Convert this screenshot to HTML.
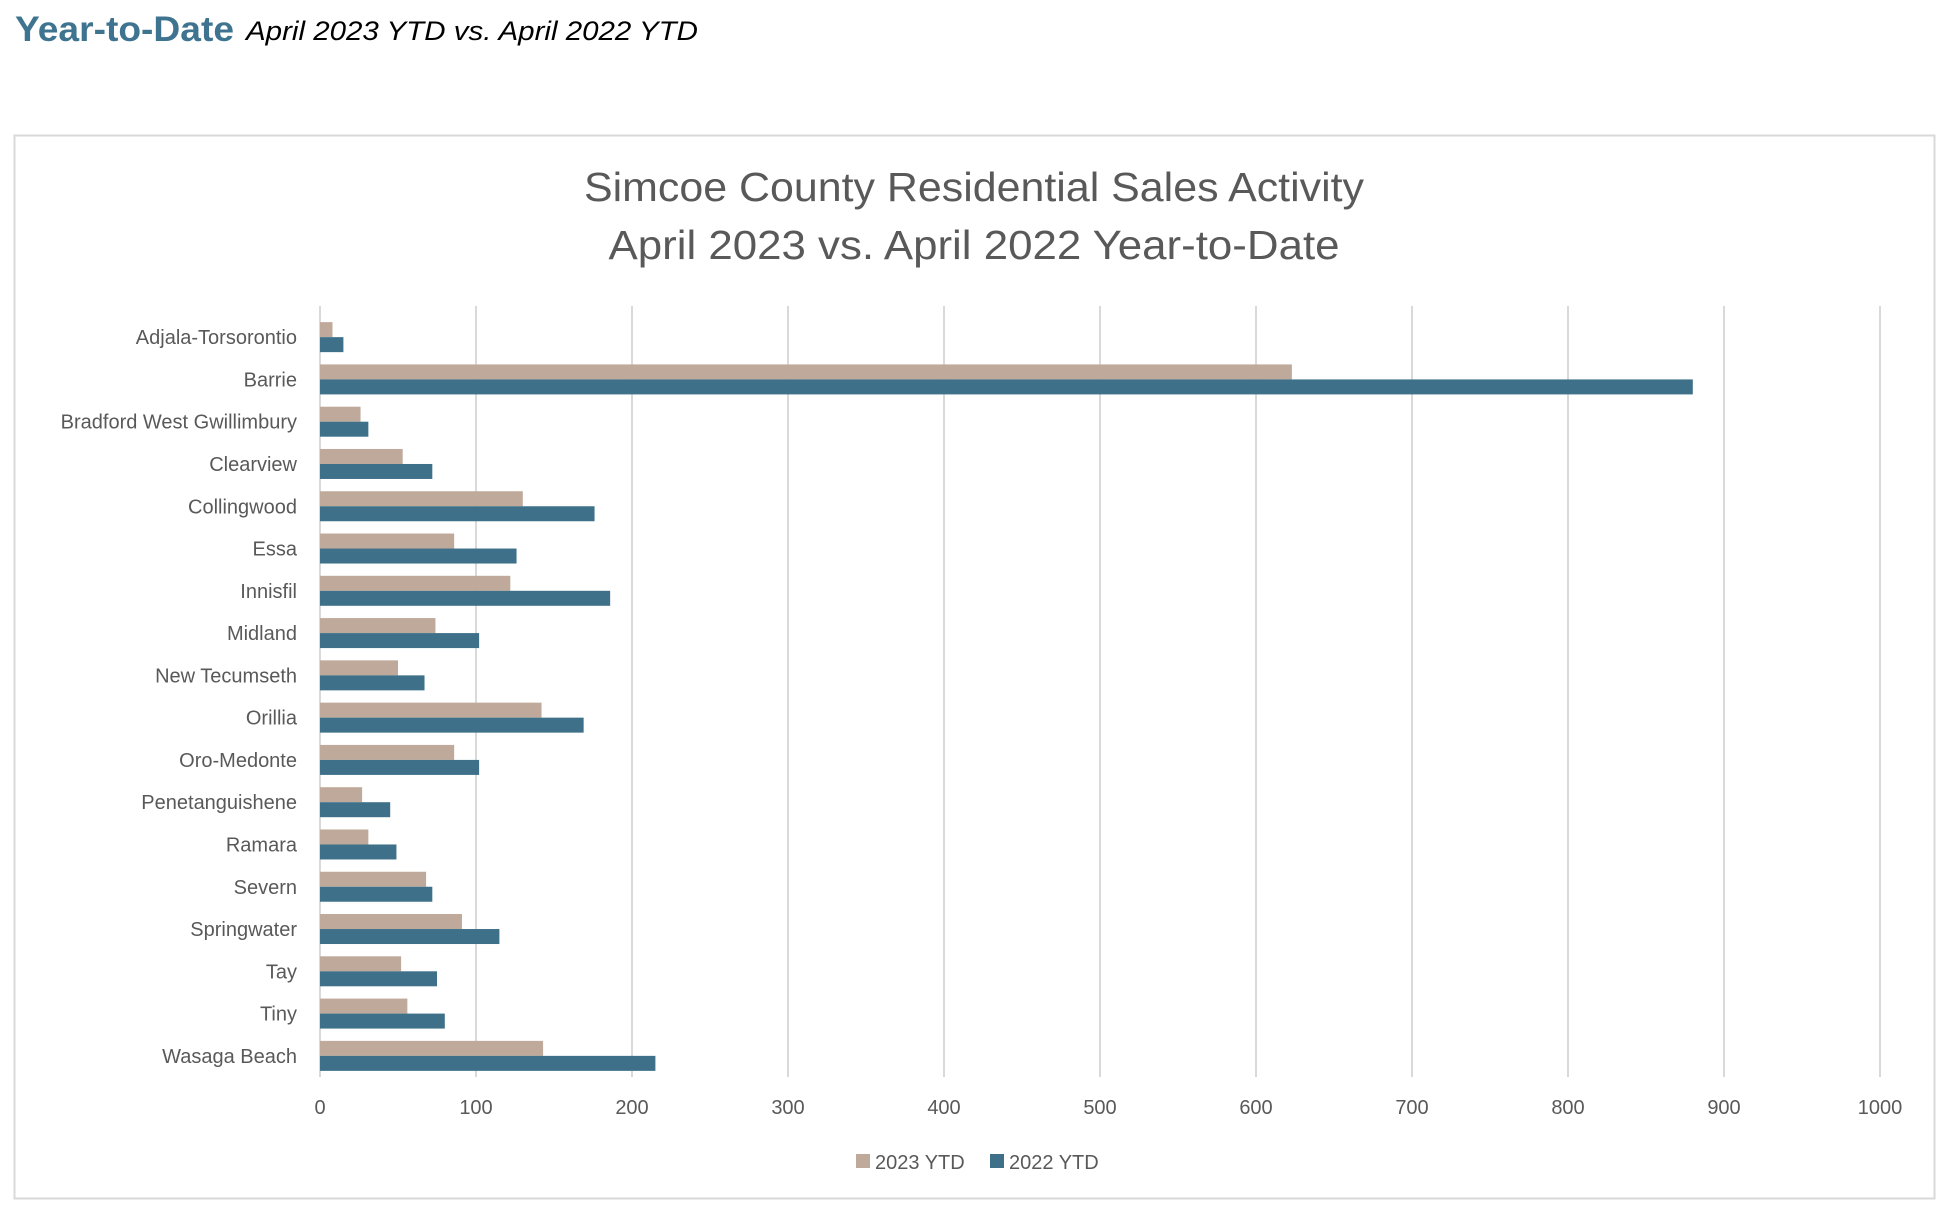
<!DOCTYPE html>
<html><head><meta charset="utf-8"><style>
html,body{margin:0;padding:0;background:#fff;}
svg{display:block;font-family:"Liberation Sans",sans-serif;}
</style></head><body>
<svg id="chart" width="1946" height="1206" viewBox="0 0 1946 1206" xmlns="http://www.w3.org/2000/svg">
<text x="15" y="41" font-size="35" font-weight="bold" fill="#3f7490" textLength="219" lengthAdjust="spacingAndGlyphs">Year-to-Date</text>
<text x="246" y="40" font-size="27" font-style="italic" fill="#000" textLength="452" lengthAdjust="spacingAndGlyphs">April 2023 YTD vs. April 2022 YTD</text>
<rect x="14.5" y="135.5" width="1920" height="1063" fill="#fff" stroke="#d9d9d9" stroke-width="2"/>
<text x="974" y="201" font-size="41" fill="#595959" text-anchor="middle" textLength="780" lengthAdjust="spacingAndGlyphs">Simcoe County Residential Sales Activity</text>
<text x="974" y="259" font-size="41" fill="#595959" text-anchor="middle" textLength="731" lengthAdjust="spacingAndGlyphs">April 2023 vs. April 2022 Year-to-Date</text>
<g id="grid"></g><g id="bars"></g><g id="labels"></g><g id="ticks"></g>
<g>
<rect x="856" y="1154" width="14" height="14" fill="#bfa99a"/>
<text x="875" y="1169" font-size="20" fill="#595959">2023 YTD</text>
<rect x="990" y="1154" width="14" height="14" fill="#3e7189"/>
<text x="1009" y="1169" font-size="20" fill="#595959">2022 YTD</text>
</g>
</svg>
<script>
const categories = ["Adjala-Torsorontio","Barrie","Bradford West Gwillimbury","Clearview","Collingwood","Essa","Innisfil","Midland","New Tecumseth","Orillia","Oro-Medonte","Penetanguishene","Ramara","Severn","Springwater","Tay","Tiny","Wasaga Beach"];
const ytd2023 = [8,623,26,53,130,86,122,74,50,142,86,27,31,68,91,52,56,143];
const ytd2022 = [15,880,31,72,176,126,186,102,67,169,102,45,49,72,115,75,80,215];
const tickValues = [0,100,200,300,400,500,600,700,800,900,1000];

const NS="http://www.w3.org/2000/svg";
const x0=320, x1=1880, maxV=1000, plotTop=316, plotBottom=1077;
const xs=v=>x0+(v/maxV)*(x1-x0);
const step=(plotBottom-plotTop)/categories.length;
const yc=i=>plotTop+step*(i+0.5);
function mk(tag,attrs,parent){const e=document.createElementNS(NS,tag);for(const k in attrs)e.setAttribute(k,attrs[k]);document.getElementById(parent).appendChild(e);return e;}
tickValues.forEach(t=>{
  const l=mk('line',{x1:xs(t),x2:xs(t),y1:306,y2:plotBottom,stroke:'#d9d9d9','stroke-width':2},'grid');
  
  
  const tx=mk('text',{x:xs(t),y:1114,'font-size':20,fill:'#595959','text-anchor':'middle'},'ticks');
  tx.textContent=t;
  
  
});
const bh=15;
categories.forEach((c,i)=>{
  const y=yc(i);
  const a=mk('rect',{x:x0,y:y-bh,width:xs(ytd2023[i])-x0,height:bh,fill:'#bfa99a'},'bars');
  
  
  const b=mk('rect',{x:x0,y:y,width:xs(ytd2022[i])-x0,height:bh,fill:'#3e7189'},'bars');
  
  
  const t=mk('text',{x:297,y:y+7,'font-size':20,fill:'#595959','text-anchor':'end'},'labels');
  t.textContent=c;
  
  
});
</script>
</body></html>
